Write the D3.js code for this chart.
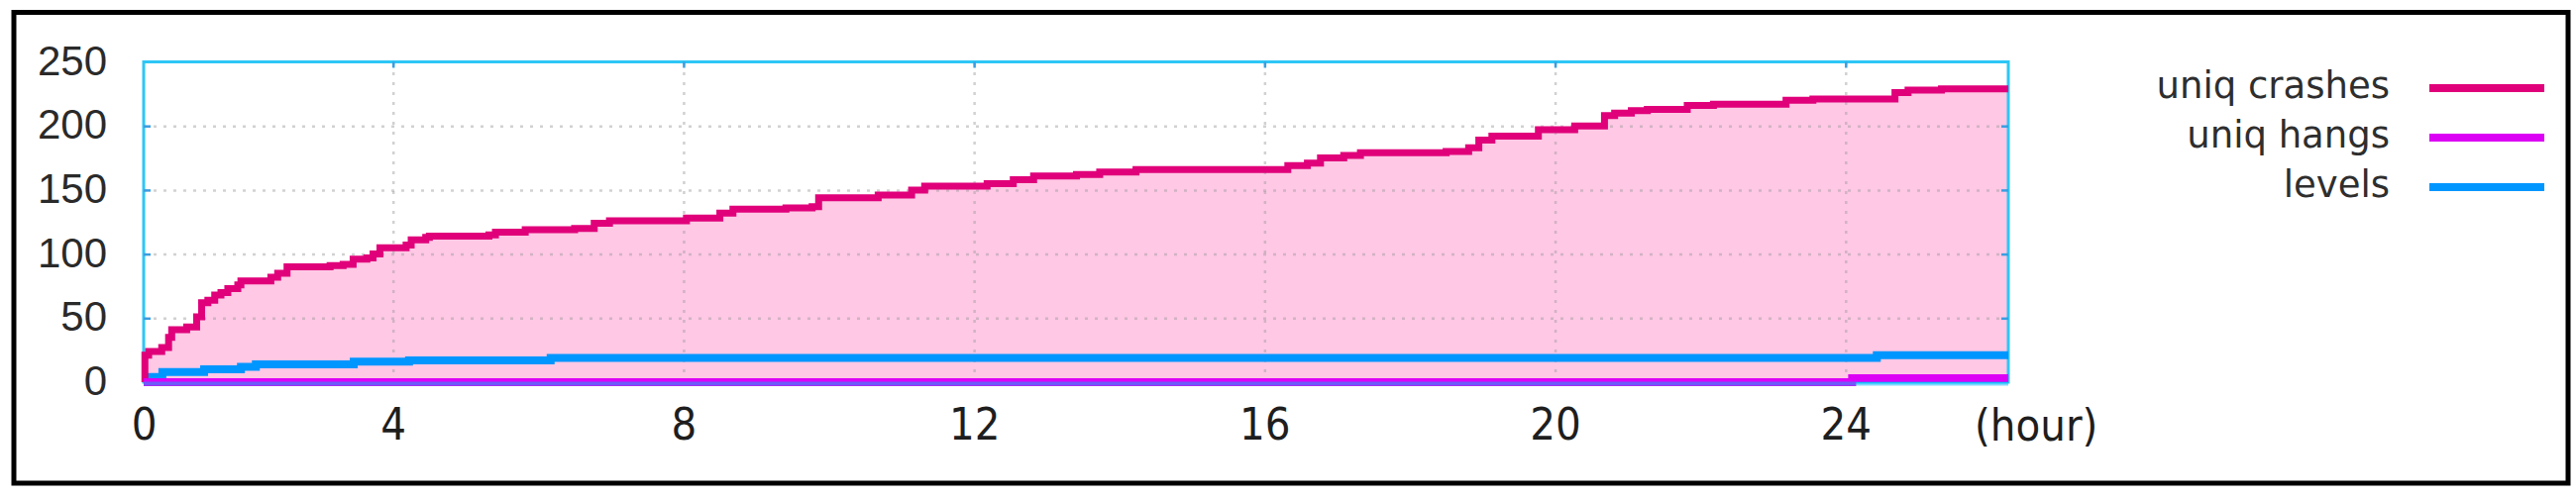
<!DOCTYPE html>
<html><head><meta charset="utf-8">
<script src="https://cdn.jsdelivr.net/npm/d3@7"></script>
<style>html,body{margin:0;padding:0;background:#fff;} svg{display:block}</style>
</head><body><svg id="chart" width="2600" height="504"></svg>
<script>
// ---- data ----
const xTickValues = [0, 4, 8, 12, 16, 20, 24];
const yTickValues = [0, 50, 100, 150, 200, 250];
const seriesNames = ["uniq crashes", "uniq hangs", "levels"];

const crashHours  = [0, 0.02, 0.08, 0.29, 0.40, 0.45, 0.69, 0.85, 0.93, 1.03, 1.14, 1.24, 1.35, 1.51, 1.56, 2.04, 2.15, 2.30, 2.99, 3.20, 3.36, 3.58, 3.68, 3.79, 4.18, 4.25, 4.45, 4.50, 5.32, 5.41, 5.82, 6.50, 6.77, 6.98, 8.04, 8.50, 8.68, 9.41, 9.77, 9.86, 10.68, 11.14, 11.32, 12.18, 12.54, 12.82, 13.41, 13.73, 14.23, 16.32, 16.59, 16.77, 17.09, 17.32, 18.50, 18.81, 18.95, 19.13, 19.77, 20.27, 20.68, 20.82, 21.05, 21.27, 21.82, 22.18, 23.18, 23.55, 24.68, 24.86, 25.32, 26.24];
const crashCounts = [0, 21, 24, 27, 35, 41, 43, 51, 62, 64, 68, 70, 73, 76, 79, 82, 85, 90, 91, 92, 96, 97, 100, 105, 107, 111, 113, 114, 115, 117, 119, 120, 124, 126, 128, 132, 135, 136, 137, 144, 146, 150, 153, 155, 158, 161, 162, 164, 166, 169, 171, 175, 177, 179, 180, 183, 189, 192, 197, 200, 208, 210, 212, 213, 216, 217, 220, 221, 226, 228, 229, 229];

const hangHours  = [0, 24.09, 26.24];
const hangCounts = [0, 3, 3];

const levelHours  = [0, 0.05, 0.30, 0.97, 1.56, 1.80, 3.37, 4.22, 6.17, 24.43, 26.24];
const levelCounts = [1, 4, 8, 10, 12, 14, 16, 17, 19, 21, 21];

// ---- layout ----
const plot = {left: 145, right: 2027, top: 62.5, bottom: 386};
const colors = {crash: "#e0007a", fill: "#ffc8e5", hang: "#dc00f5", level: "#0096ff", frame: "#2ec6f6", tick: "#3a9ee0"};

const svg = d3.select("#chart");

// outer black frame
svg.append("rect").attr("x", 14).attr("y", 12.5).attr("width", 2578).attr("height", 475.5)
  .attr("fill", "#fff").attr("stroke", "#000").attr("stroke-width", 5);

// the reference's x axis is compressed between 0 and 4 h; reproduce with a piecewise scale
const x = d3.scaleLinear().domain([0, 4, 26.24]).range([plot.left, plot.left + 251.7, plot.right]);
const y = d3.scaleLinear().domain([0, 250]).range([plot.bottom, plot.top]);

const zip = (hs, vs) => hs.map((h, i) => ({h, v: vs[i]}));
const crashes = zip(crashHours, crashCounts);
const hangs = zip(hangHours, hangCounts);
const levels = zip(levelHours, levelCounts);

// filled area under crashes
svg.append("path").datum(crashes)
  .attr("d", d3.area().curve(d3.curveStepAfter).x(d => x(d.h)).y0(y(0)).y1(d => y(d.v)))
  .attr("fill", colors.fill);

// grid
const gridY = svg.append("g").attr("transform", `translate(${plot.left},0)`)
  .call(d3.axisLeft(y).tickValues(yTickValues.filter(v => v > 0 && v < 250)).tickSize(-(plot.right - plot.left)).tickFormat(""));
gridY.select(".domain").remove();
gridY.selectAll("line").attr("stroke", "#9a9a9a").attr("stroke-opacity", 0.45).attr("stroke-width", 2.5).attr("stroke-dasharray", "3,7");

const gridX = svg.append("g").attr("transform", `translate(0,${plot.bottom})`)
  .call(d3.axisBottom(x).tickValues(xTickValues.filter(v => v > 0)).tickSize(-(plot.bottom - plot.top)).tickFormat(""));
gridX.select(".domain").remove();
gridX.selectAll("line").attr("stroke", "#9a9a9a").attr("stroke-opacity", 0.45).attr("stroke-width", 2.5).attr("stroke-dasharray", "3,7");

// frame
svg.append("rect").attr("x", plot.left).attr("y", plot.top)
  .attr("width", plot.right - plot.left).attr("height", plot.bottom - plot.top)
  .attr("fill", "none").attr("stroke", colors.frame).attr("stroke-width", 3);

// small inner ticks on the frame
function innerTicks(axis, tr) {
  const g = svg.append("g").attr("transform", tr).call(axis);
  g.select(".domain").remove();
  g.selectAll("line").attr("stroke", colors.tick).attr("stroke-width", 2.5);
}
innerTicks(d3.axisLeft(y).tickValues(yTickValues.filter(v => v > 0 && v < 250)).tickSize(-7).tickFormat(""), `translate(${plot.left},0)`);
innerTicks(d3.axisRight(y).tickValues(yTickValues.filter(v => v > 0 && v < 250)).tickSize(-7).tickFormat(""), `translate(${plot.right},0)`);
innerTicks(d3.axisTop(x).tickValues(xTickValues.filter(v => v > 0)).tickSize(-6).tickFormat(""), `translate(0,${plot.top})`);

// lines
const line = d3.line().curve(d3.curveStepAfter).x(d => x(d.h)).y(d => y(d.v));
svg.append("path").datum(levels).attr("d", line).attr("fill", "none")
  .attr("stroke", colors.level).attr("stroke-width", 8);
svg.append("path").datum(crashes).attr("d", line).attr("fill", "none")
  .attr("stroke", colors.crash).attr("stroke-width", 7);
svg.append("path").datum(hangs).attr("d", line).attr("fill", "none")
  .attr("stroke", colors.hang).attr("stroke-width", 8);
// bottom frame edge overlaps the hangs line (blended violet in the reference)
svg.append("line").attr("x1", plot.left).attr("x2", plot.right).attr("y1", plot.bottom + 1.5).attr("y2", plot.bottom + 1.5)
  .attr("stroke", "#00b4ff").attr("stroke-opacity", 0.5).attr("stroke-width", 4);

// y labels
const yAx = svg.append("g").attr("transform", `translate(${plot.left},0)`)
  .call(d3.axisLeft(y).tickValues(yTickValues).tickSize(0).tickPadding(37));
yAx.select(".domain").remove();
yAx.selectAll("text").attr("font-family", "'Liberation Sans Narrow','Liberation Sans',Arial,sans-serif")
  .attr("font-size", 42).attr("fill", "#2a2a2a").attr("dy", "0.3em");

// x labels
const xAx = svg.append("g").attr("transform", `translate(0,${plot.bottom})`)
  .call(d3.axisBottom(x).tickValues(xTickValues).tickSize(0).tickPadding(26));
xAx.select(".domain").remove();
xAx.selectAll("text").attr("font-family", "'DejaVu Sans Condensed','DejaVu Sans',sans-serif")
  .attr("font-stretch", "condensed").attr("font-size", 45).attr("fill", "#1e1e1e");

svg.append("text").attr("x", 1993).attr("y", 445).text("(hour)")
  .attr("font-family", "'DejaVu Sans Condensed','DejaVu Sans',sans-serif").attr("font-stretch", "condensed")
  .attr("font-size", 45).attr("fill", "#1e1e1e");

// legend
const legendColors = [colors.crash, colors.hang, colors.level];
const leg = svg.append("g");
seriesNames.forEach((name, i) => {
  const ly = 89 + i * 50;
  leg.append("text").attr("x", 2412).attr("y", ly + 10).attr("text-anchor", "end").text(name)
    .attr("font-family", "'DejaVu Sans',sans-serif").attr("font-size", 37).attr("fill", "#2e2e2e");
  leg.append("line").attr("x1", 2452).attr("x2", 2568).attr("y1", ly).attr("y2", ly)
    .attr("stroke", legendColors[i]).attr("stroke-width", 8);
});
</script></body></html>
